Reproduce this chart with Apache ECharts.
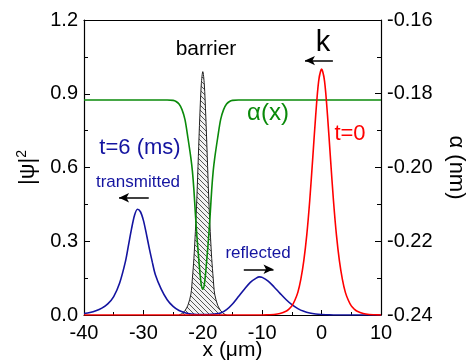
<!DOCTYPE html>
<html>
<head>
<meta charset="utf-8">
<script src="https://cdn.jsdelivr.net/npm/echarts@6/dist/echarts.min.js"></script>
<style>
  html, body { margin: 0; padding: 0; background: #fff; }
  #chart { width: 469px; height: 360px; }
</style>
</head>
<body>
<div id="chart"></div>
<script>
// x positions (μm) and |ψ|² values
const blueX = [-40, -39, -38, -37, -36, -35, -34, -33, -32.5, -32, -31.5, -31, -30.5, -30, -29.5, -29, -28.5, -28,
  -27, -26, -25, -24, -23, -22, -21, -20, -19, -18, -17, -16, -15, -14, -13, -12, -11, -10.5,
  -10, -9, -8, -7, -6, -5, -4, -3, -2, -1, 0, 1, 2, 4, 10]
const blueY = [0.006, 0.01, 0.017, 0.028, 0.045, 0.075, 0.13, 0.22, 0.285, 0.35, 0.405, 0.43, 0.42, 0.385, 0.33, 0.27, 0.215, 0.165,
  0.105, 0.062, 0.035, 0.018, 0.009, 0.004, 0.002, 0.002, 0.002, 0.004, 0.008, 0.022, 0.045, 0.075, 0.105, 0.133, 0.15, 0.155,
  0.153, 0.138, 0.114, 0.088, 0.063, 0.042, 0.026, 0.015, 0.008, 0.004, 0.002, 0.001, 0, 0, 0]

const redX = [-40, -10, -9, -8, -7, -6, -5.5, -5, -4.5, -4, -3.5, -3, -2.5, -2, -1.5, -1, -0.5, 0,
  0.5, 1, 1.5, 2, 2.5, 3, 3.5, 4, 4.5, 5, 5.5, 6, 7, 8, 9, 10]
const redY = [0, 0, 0.001, 0.002, 0.006, 0.015, 0.024, 0.037, 0.06, 0.092, 0.145, 0.22, 0.325, 0.465, 0.635, 0.81, 0.95, 1.0,
  0.95, 0.81, 0.635, 0.465, 0.325, 0.22, 0.145, 0.092, 0.06, 0.037, 0.024, 0.015, 0.006, 0.002, 0.001, 0]

const barrierX = [-24, -23.5, -23, -22.5, -22, -21.75, -21.5, -21.25, -21, -20.75, -20.5, -20.25, -20,
  -19.75, -19.5, -19.25, -19, -18.75, -18.5, -18.25, -18, -17.5, -17, -16.5, -16]
const barrierY = [0, 0.006, 0.018, 0.04, 0.085, 0.15, 0.23, 0.34, 0.475, 0.645, 0.81, 0.94, 0.99,
  0.94, 0.81, 0.645, 0.475, 0.34, 0.23, 0.15, 0.085, 0.04, 0.018, 0.006, 0]

// α(x) in nm, right axis
const alphaX = [-40, -30, -26, -25, -24.5, -24, -23.5, -23, -22.5, -22, -21.75, -21.5, -21.25, -21, -20.75, -20.5, -20.25, -20,
  -19.75, -19.5, -19.25, -19, -18.75, -18.5, -18.25, -18, -17.5, -17, -16.5, -16, -15.5, -15, -14, -10, 10]
const alphaY = [-0.1817, -0.1817, -0.1817, -0.1818, -0.1821, -0.1828, -0.1843, -0.187, -0.192, -0.1975, -0.201, -0.206, -0.2125, -0.2185, -0.2235, -0.2282, -0.2318, -0.233,
  -0.2318, -0.2282, -0.2235, -0.2185, -0.2125, -0.206, -0.201, -0.1975, -0.192, -0.187, -0.1843, -0.1828, -0.1821, -0.1818, -0.1817, -0.1817, -0.1817]

// arrows in data coords: [from, to]
const arrows = [
  [[1.9, 1.035], [-2.8, 1.035]],
  [[-29.1, 0.477], [-34.1, 0.477]],
  [[-13.1, 0.186], [-8.1, 0.186]],
]

const FONT = 'Liberation Sans, Arial, sans-serif'
const BLUE = '#1414a0'
const GREEN = '#0a8a0a'
const RED = '#ff0000'

const zip = (xs, ys) => xs.map((x, i) => [x, ys[i]])

function hatch() {
  const c = document.createElement('canvas')
  c.width = 5
  c.height = 5
  const g = c.getContext('2d')
  g.fillStyle = '#f2f2f2'
  g.fillRect(0, 0, 5, 5)
  g.strokeStyle = '#555'
  g.lineWidth = 1
  g.beginPath()
  g.moveTo(-1, -1); g.lineTo(6, 6)
  g.moveTo(-1, 4); g.lineTo(1, 6)
  g.moveTo(4, -1); g.lineTo(6, 1)
  g.stroke()
  return c
}

const texts = [
  { text: 'barrier', x: 206, y: 49, size: 21, color: '#000' },
  { text: 'k', x: 323, y: 43, size: 29, color: '#000' },
  { text: 'α(x)', x: 268, y: 113, size: 24, color: GREEN },
  { text: 't=0', x: 350, y: 134, size: 22, color: RED },
  { text: 't=6 (ms)', x: 140, y: 148, size: 22, color: BLUE },
  { text: 'transmitted', x: 138, y: 182, size: 17, color: BLUE },
  { text: 'reflected', x: 258, y: 253, size: 17, color: BLUE },
]

const tickCommon = {
  axisLine: { show: true, onZero: false, lineStyle: { color: '#000', width: 1.2 } },
  splitLine: { show: false },
}

const chart = echarts.init(document.getElementById('chart'))
chart.setOption({
  animation: false,
  backgroundColor: '#fff',
  grid: { left: 84, right: 88, top: 20, bottom: 45, outerBoundsMode: 'none', containLabel: false },
  xAxis: [
    {
      type: 'value',
      min: -40,
      max: 10,
      interval: 10,
      name: 'x (μm)',
      nameLocation: 'middle',
      nameGap: 25,
      nameMoveOverlap: false,
      nameTextStyle: { fontSize: 21, color: '#000', fontFamily: FONT },
      ...tickCommon,
      axisTick: { inside: true, length: 5, lineStyle: { color: '#000' } },
      minorTick: { show: true, splitNumber: 2, length: 3, lineStyle: { color: '#000' } },
      axisLabel: { margin: 8, fontSize: 20, color: '#000', fontFamily: FONT },
    },
    {
      type: 'value',
      position: 'top',
      min: -40,
      max: 10,
      ...tickCommon,
      axisTick: { show: false },
      axisLabel: { show: false },
    },
  ],
  yAxis: [
    {
      type: 'value',
      min: 0,
      max: 1.2,
      interval: 0.3,
      name: '|ψ|{s|2}',
      nameLocation: 'middle',
      nameGap: 40,
      nameTextStyle: {
        fontSize: 22, color: '#000', fontFamily: FONT,
        rich: { s: { fontSize: 14, verticalAlign: 'top', padding: [0, 0, 12, 0], fontFamily: FONT } },
      },
      ...tickCommon,
      axisTick: { inside: true, length: 6, lineStyle: { color: '#000' } },
      minorTick: { show: true, splitNumber: 2, length: 4, lineStyle: { color: '#000' } },
      axisLabel: { margin: 6, fontSize: 20, color: '#000', fontFamily: FONT, formatter: (v) => v.toFixed(1) },
    },
    {
      type: 'value',
      position: 'right',
      min: -0.24,
      max: -0.16,
      interval: 0.02,
      name: 'α (nm)',
      nameLocation: 'middle',
      nameRotate: -90,
      nameGap: 64,
      nameTextStyle: { fontSize: 22, color: '#000', fontFamily: FONT },
      ...tickCommon,
      axisTick: { inside: true, length: 6, lineStyle: { color: '#000' } },
      minorTick: { show: true, splitNumber: 2, length: 4, lineStyle: { color: '#000' } },
      axisLabel: { margin: 6, fontSize: 20, color: '#000', fontFamily: FONT, formatter: (v) => v.toFixed(2) },
    },
  ],
  graphic: texts.map((t) => ({
    type: 'text',
    x: t.x,
    y: t.y,
    z: 100,
    style: {
      text: t.text,
      fill: t.color,
      fontSize: t.size,
      fontFamily: FONT,
      align: 'center',
      verticalAlign: 'middle',
    },
  })),
  series: [
    {
      name: 'barrier',
      type: 'line',
      data: zip(barrierX, barrierY),
      showSymbol: false,
      smooth: 0.3,
      lineStyle: { color: '#222', width: 1 },
      areaStyle: { color: { image: hatch(), repeat: 'repeat' }, opacity: 1 },
      z: 1,
    },
    {
      name: 'alpha',
      type: 'line',
      yAxisIndex: 1,
      data: zip(alphaX, alphaY),
      showSymbol: false,
      smooth: 0.3,
      lineStyle: { color: GREEN, width: 1.6 },
      z: 2,
    },
    {
      name: 't=6',
      type: 'line',
      data: zip(blueX, blueY),
      showSymbol: false,
      smooth: 0.3,
      lineStyle: { color: BLUE, width: 1.6 },
      z: 3,
    },
    {
      name: 't=0',
      type: 'line',
      data: zip(redX, redY),
      showSymbol: false,
      smooth: 0.3,
      lineStyle: { color: RED, width: 1.6 },
      z: 4,
      markLine: {
        silent: true,
        symbol: ['none', 'arrow'],
        symbolSize: [7, 10],
        label: { show: false },
        lineStyle: { color: '#000', width: 1.5, type: 'solid' },
        data: arrows.map((a) => [{ coord: a[0] }, { coord: a[1] }]),
      },
    },
  ],
})
</script>
</body>
</html>
